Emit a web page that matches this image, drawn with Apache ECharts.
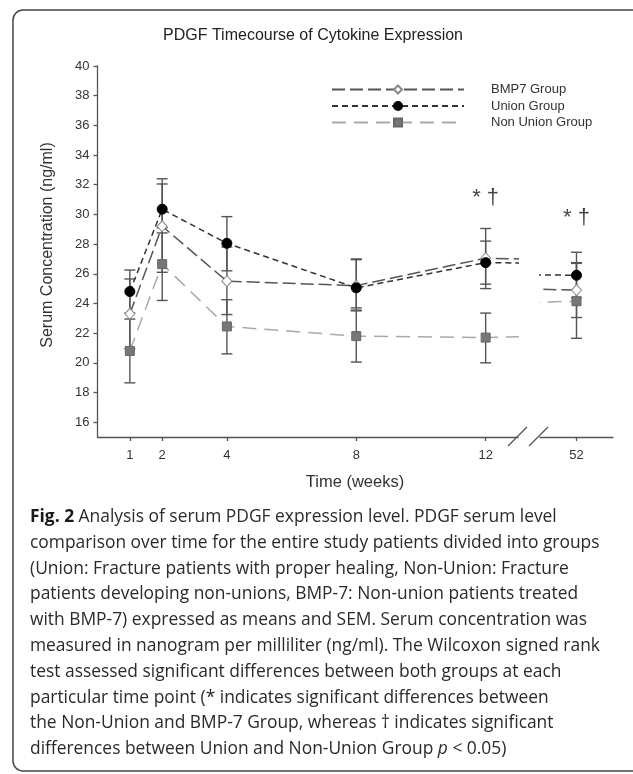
<!DOCTYPE html>
<html><head><meta charset="utf-8">
<script src="https://cdn.jsdelivr.net/npm/echarts@6/dist/echarts.min.js"></script>
<style>html,body{margin:0;padding:0;background:#fff}#c{width:633px;height:774px}</style>
</head><body><div id="c"></div>
<script>
// ---- data ----
const weeks = [1, 2, 4, 8, 12, 52];
const bmp7 = [23.3, 29.2, 25.5, 25.2, 27.05, 24.9];
const bmp7Low = [20.95, 26.1, 23.25, 23.7, 25.3, 23.05];
const bmp7High = [25.65, 32.05, 27.8, 27.0, 28.2, 26.75];
const union = [24.8, 30.35, 28.05, 25.05, 26.75, 25.9];
const unionLow = [23.35, 28.75, 26.2, 23.55, 25.0, 24.4];
const unionHigh = [26.25, 32.4, 29.85, 26.95, 29.05, 27.45];
const nonUnion = [20.8, 26.65, 22.45, 21.8, 21.7, 24.15];
const nonUnionLow = [18.65, 24.2, 20.6, 20.05, 20.0, 21.65];
const nonUnionHigh = [22.95, 29.1, 24.25, 23.5, 23.35, 26.7];
const yTicks = [16, 18, 20, 22, 24, 26, 28, 30, 32, 34, 36, 38, 40];
const xTicksLeft = [1, 2, 4, 8, 12];
const xTicksRight = [52];
const seriesNames = ['BMP7 Group', 'Union Group', 'Non Union Group'];
const sigWeeks = [12, 52];
const sigLevels = [31.1, 29.75];
const sigText = ['* \u2020', '* \u2020'];
const titleText = 'PDGF Timecourse of Cytokine Expression';
const yName = 'Serum Concentration (ng/ml)';
const xName = 'Time (weeks)';
const captionLines = [
  '{b|Fig. 2} Analysis of serum PDGF expression level. PDGF serum level',
  'comparison over time for the entire study patients divided into groups',
  '(Union: Fracture patients with proper healing, Non-Union: Fracture',
  'patients developing non-unions, BMP-7: Non-union patients treated',
  'with BMP-7) expressed as means and SEM. Serum concentration was',
  'measured in nanogram per milliliter (ng/ml). The Wilcoxon signed rank',
  'test assessed significant differences between both groups at each',
  'particular time point (* indicates significant differences between',
  'the Non-Union and BMP-7 Group, whereas \u2020 indicates significant',
  'differences between Union and Non-Union Group {i|p} < 0.05)'
];

// ---- styles ----
const FONT = 'Liberation Sans, Arial, sans-serif';
const CAP_FONT = 'Open Sans, sans-serif';
const groups = [
  { name: seriesNames[0], vals: bmp7, low: bmp7Low, high: bmp7High,
    line: '#555', dash: [13, 5], symbol: 'diamond', size: [10, 11], fill: '#fff', border: '#888' },
  { name: seriesNames[1], vals: union, low: unionLow, high: unionHigh,
    line: '#333', dash: [6, 4], symbol: 'circle', size: 10, fill: '#000', border: '#000' },
  { name: seriesNames[2], vals: nonUnion, low: nonUnionLow, high: nonUnionHigh,
    line: '#aaa', dash: [14, 8], symbol: 'rect', size: 9, fill: '#777', border: '#666' }
];

function errRender(params, api) {
  const x = api.value(0);
  const pLo = api.coord([x, api.value(1)]);
  const pHi = api.coord([x, api.value(2)]);
  const cs = params.coordSys;
  if (pLo[0] < cs.x - 1 || pLo[0] > cs.x + cs.width + 1) return;
  const w = 5.5;
  const st = { stroke: '#555', lineWidth: 1.4 };
  return { type: 'group', children: [
    { type: 'line', shape: { x1: pLo[0], y1: pLo[1], x2: pHi[0], y2: pHi[1] }, style: st },
    { type: 'line', shape: { x1: pHi[0] - w, y1: pHi[1], x2: pHi[0] + w, y2: pHi[1] }, style: st },
    { type: 'line', shape: { x1: pLo[0] - w, y1: pLo[1], x2: pLo[0] + w, y2: pLo[1] }, style: st }
  ]};
}

const series = [];
[0, 1].forEach(gi => {
  groups.forEach(g => {
    series.push({
      type: 'line', name: g.name, xAxisIndex: gi, yAxisIndex: gi, clip: true,
      data: weeks.map((w, i) => [w, g.vals[i]]),
      symbol: g.symbol, symbolSize: g.size, z: 4,
      itemStyle: { color: g.fill, borderColor: g.border, borderWidth: 1 },
      lineStyle: { color: g.line, width: 1.5, type: g.dash },
      emphasis: { disabled: true }, silent: true
    });
  });
});
[0, 1].forEach(gi => {
  groups.forEach(g => {
    series.push({
      type: 'custom', xAxisIndex: gi, yAxisIndex: gi, z: 3, silent: true,
      data: weeks.map((w, i) => [w, g.low[i], g.high[i]]),
      renderItem: errRender
    });
  });
});
[0, 1].forEach(gi => {
  const ext = gi === 0 ? [0, 13] : [51, 53];
  const pts = [];
  sigWeeks.forEach((w, i) => { if (w >= ext[0] && w <= ext[1]) pts.push({ value: [w, sigLevels[i]], label: { formatter: sigText[i] } }); });
  series.push({
    type: 'scatter', xAxisIndex: gi, yAxisIndex: gi, symbolSize: 1, z: 5, silent: true,
    itemStyle: { color: 'rgba(0,0,0,0)' },
    label: { show: true, position: 'inside', fontSize: 22, color: '#111', fontFamily: FONT },
    data: pts
  });
});

const axisLine = { show: true, onZero: false, lineStyle: { color: '#555', width: 1.3 } };
const tickStyle = { color: '#555', width: 1.3 };
const labelStyle = { fontSize: 13, color: '#333', fontFamily: FONT };

const option = {
  animation: false,
  backgroundColor: '#fff',
  title: { text: titleText, left: 308, top: 23, textAlign: 'center',
    textStyle: { fontSize: 16, fontWeight: 'normal', color: '#222', fontFamily: FONT } },
  legend: {
    data: seriesNames, orient: 'vertical', left: 326, top: 78, itemWidth: 132, itemHeight: 10,
    itemGap: 3.5, selectedMode: false,
    textStyle: { fontSize: 13, color: '#333', fontFamily: FONT, padding: [0, 0, 0, 22] }
  },
  grid: [
    { left: 97.5, top: 66, width: 420.5, height: 371 },
    { left: 540, top: 66, width: 73, height: 371 }
  ],
  xAxis: [
    { type: 'value', gridIndex: 0, min: 0, max: 13, axisLine,
      axisTick: { show: true, customValues: xTicksLeft, length: 4, lineStyle: tickStyle },
      axisLabel: Object.assign({ customValues: xTicksLeft, margin: 12 }, labelStyle),
      splitLine: { show: false } },
    { type: 'value', gridIndex: 1, min: 51, max: 53, axisLine,
      axisTick: { show: true, customValues: xTicksRight, length: 4, lineStyle: tickStyle },
      axisLabel: Object.assign({ customValues: xTicksRight, margin: 12 }, labelStyle),
      splitLine: { show: false } }
  ],
  yAxis: [
    { type: 'value', gridIndex: 0, min: 15, max: 40, axisLine,
      axisTick: { show: true, customValues: yTicks, length: 4, lineStyle: tickStyle },
      axisLabel: Object.assign({ customValues: yTicks, margin: 8 }, labelStyle),
      splitLine: { show: false },
      name: yName, nameLocation: 'middle', nameGap: 42,
      nameTextStyle: { fontSize: 16, color: '#333', fontFamily: FONT, padding: [0, 0, 0, 13] } },
    { type: 'value', gridIndex: 1, min: 15, max: 40, show: false }
  ],
  graphic: [
    { type: 'rect', shape: { x: 13, y: 10, width: 640, height: 761, r: 10 },
      style: { fill: 'none', stroke: '#444', lineWidth: 1.5 }, silent: true },
    { type: 'line', shape: { x1: 508, y1: 446, x2: 527, y2: 427 }, style: { stroke: '#555', lineWidth: 1.3 } },
    { type: 'line', shape: { x1: 529, y1: 446, x2: 548, y2: 427 }, style: { stroke: '#555', lineWidth: 1.3 } },
    { type: 'text', x: 355, y: 482, style: { text: xName, fontSize: 16.5, fill: '#333', fontFamily: FONT,
      align: 'center', verticalAlign: 'middle' } }
  ].concat(captionLines.map((t, i) => ({
    type: 'text', x: 30, y: 517 + i * 25.8,
    style: { text: t, fontSize: 17.4, fill: '#2a2a2a', fontFamily: CAP_FONT,
      verticalAlign: 'middle', align: 'left',
      rich: { b: { fontWeight: 'bold', fontSize: 17.4, fontFamily: CAP_FONT, fill: '#1a1a1a' },
              i: { fontStyle: 'italic', fontSize: 17.4, fontFamily: CAP_FONT, fill: '#2a2a2a' } } }
  }))),
  series
};
const chart = echarts.init(document.getElementById('c'), null, { renderer: 'canvas' });
chart.setOption(option);
</script></body></html>
